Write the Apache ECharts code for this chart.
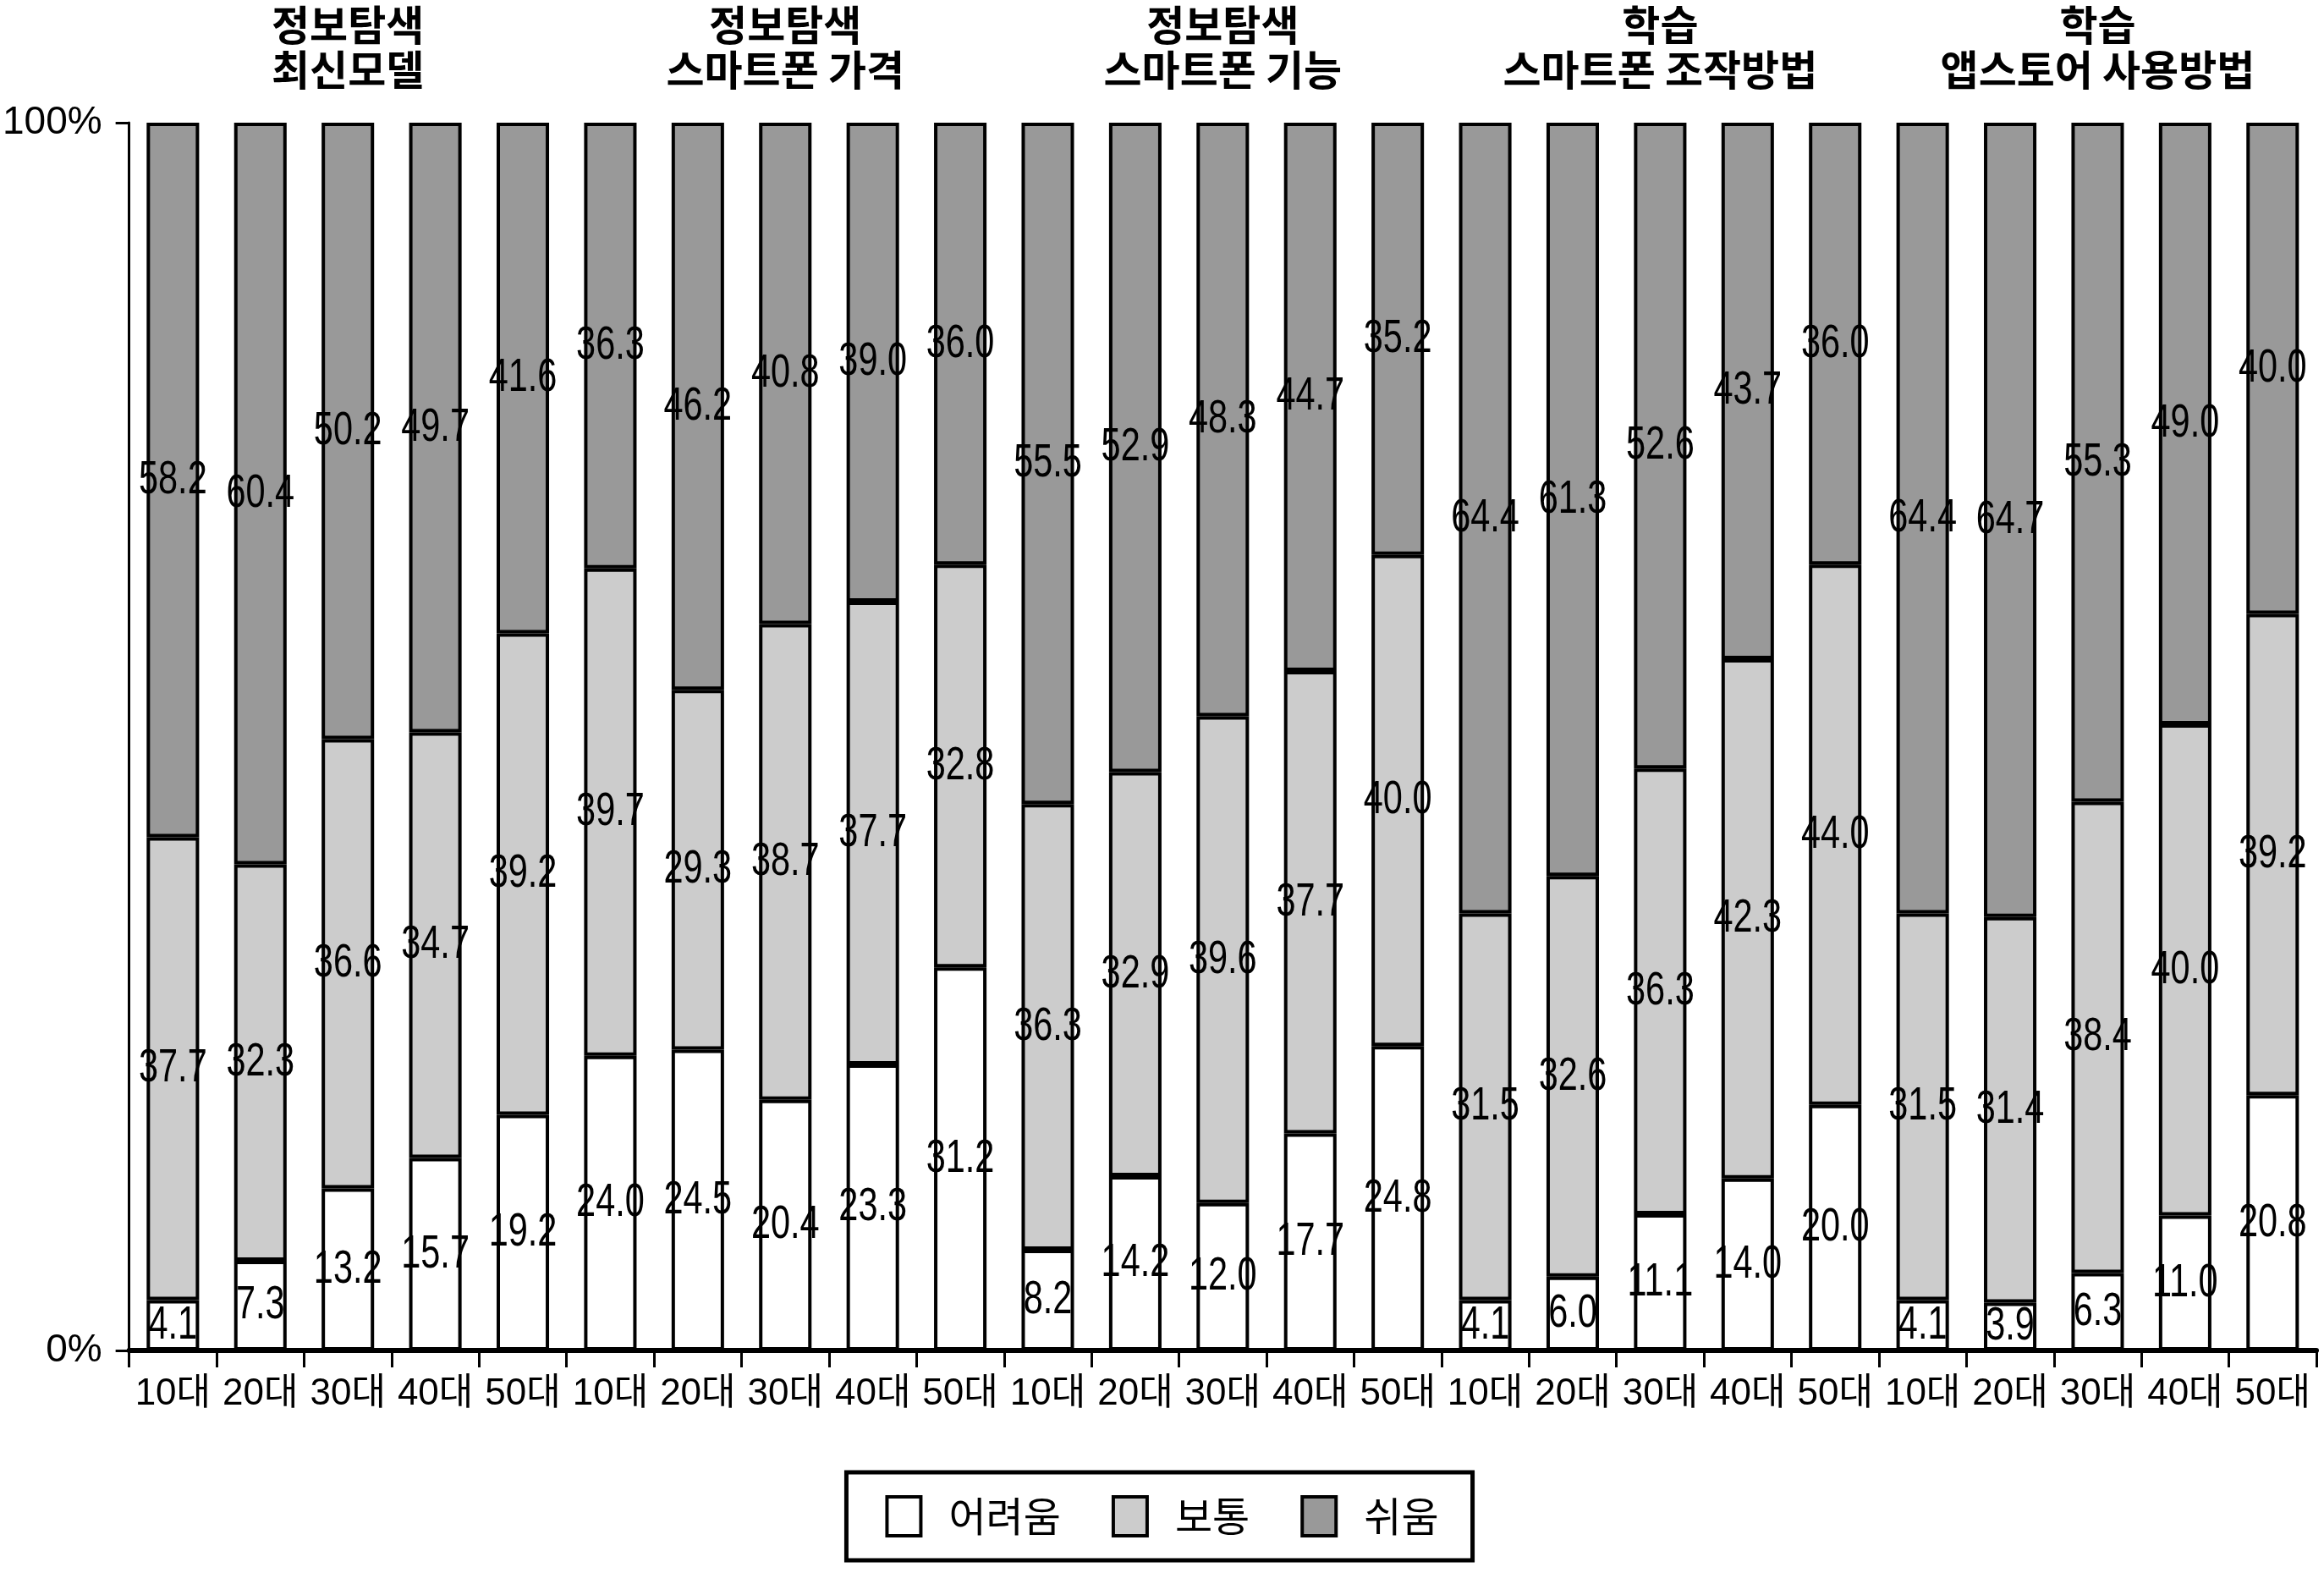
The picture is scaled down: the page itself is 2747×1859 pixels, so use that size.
<!DOCTYPE html>
<html>
<head>
<meta charset="utf-8">
<script src="https://cdn.jsdelivr.net/npm/echarts@6/dist/echarts.min.js"></script>
<style>
html,body{margin:0;padding:0;background:#fff;}
#chart{width:2747px;height:1859px;}
</style>
</head>
<body>
<div id="chart"></div>
<script>
// Data
const ages = ['10대','20대','30대','40대','50대'];
const groups = ['정보탐색\n최신모델','정보탐색\n스마트폰 가격','정보탐색\n스마트폰 기능','학습\n스마트폰 조작방법','학습\n앱스토어 사용방법'];
const categories = [].concat(ages, ages, ages, ages, ages);
const seriesNames = ['어려움','보통','쉬움'];
const hard = [4.1, 7.3, 13.2, 15.7, 19.2,  24.0, 24.5, 20.4, 23.3, 31.2,  8.2, 14.2, 12.0, 17.7, 24.8,  4.1, 6.0, 11.1, 14.0, 20.0,  4.1, 3.9, 6.3, 11.0, 20.8];
const normal = [37.7, 32.3, 36.6, 34.7, 39.2,  39.7, 29.3, 38.7, 37.7, 32.8,  36.3, 32.9, 39.6, 37.7, 40.0,  31.5, 32.6, 36.3, 42.3, 44.0,  31.5, 31.4, 38.4, 40.0, 39.2];
const easy = [58.2, 60.4, 50.2, 49.7, 41.6,  36.3, 46.2, 40.8, 39.0, 36.0,  55.5, 52.9, 48.3, 44.7, 35.2,  64.4, 61.3, 52.6, 43.7, 36.0,  64.4, 64.7, 55.3, 49.0, 40.0];
const colors = ['#FFFFFF', '#CCCCCC', '#999999'];

const SANS = '"Liberation Sans", Arial, "Noto Sans CJK KR", sans-serif';
const KR = '"Noto Sans CJK KR", sans-serif';
const chart = echarts.init(document.getElementById('chart'), null, {renderer: 'canvas'});

// 100% stacked: each bar scaled to its own total (as a 100% stacked chart does)
const layers = [hard, normal, easy];
const totals = categories.map(function (_, i) { return hard[i] + normal[i] + easy[i]; });
const pct = layers.map(function (arr) { return arr.map(function (v, i) { return v / totals[i] * 100; }); });

// label items: [categoryIndex, segmentStart, segmentEnd, rawValue]
const labelData = [];
for (let i = 0; i < categories.length; i++) {
  let acc = 0;
  for (let k = 0; k < layers.length; k++) {
    const h = pct[k][i];
    labelData.push([i, acc, acc + h, layers[k][i]]);
    acc += h;
  }
}

function mkSeries(name, data, color) {
  return {
    name: name,
    type: 'bar',
    stack: 'total',
    data: data,
    barWidth: '60%',
    itemStyle: {color: color, borderColor: '#000', borderWidth: 4},
    label: {show: false},
    emphasis: {disabled: true}
  };
}

chart.setOption({
  animation: false,
  backgroundColor: '#fff',
  grid: {left: 152, right: 9, top: 145, bottom: 263, containLabel: false},
  legend: {
    data: seriesNames,
    left: 'center',
    top: 1740,
    icon: 'rect',
    itemWidth: 40,
    itemHeight: 46,
    itemGap: 60,
    borderColor: '#000',
    borderWidth: 5,
    padding: [27, 40, 27, 46],
    textStyle: {color: '#000', fontSize: 48, fontFamily: KR, padding: [0, 0, 0, 28]},
    itemStyle: {borderColor: '#000', borderWidth: 4}
  },
  xAxis: [
    {
      type: 'category',
      data: categories,
      position: 'bottom',
      axisLine: {show: true, lineStyle: {color: '#000', width: 6}},
      axisTick: {show: true, alignWithLabel: false, length: 20, lineStyle: {color: '#000', width: 3}},
      axisLabel: {color: '#000', fontSize: 44, fontFamily: SANS, margin: 30, interval: 0},
      splitLine: {show: false}
    },
    {
      type: 'category',
      data: groups,
      position: 'top',
      axisLine: {show: false},
      axisTick: {show: false},
      axisLabel: {color: '#000', fontSize: 49, fontWeight: 'bold', lineHeight: 53, fontFamily: KR, margin: 36, interval: 0},
      splitLine: {show: false}
    }
  ],
  yAxis: {
    type: 'value',
    min: 0,
    max: 100,
    interval: 100,
    axisLine: {show: true, lineStyle: {color: '#000', width: 3}},
    axisTick: {show: true, length: 16, lineStyle: {color: '#000', width: 3}},
    axisLabel: {color: '#000', fontSize: 46, fontFamily: SANS, margin: 32, formatter: '{value}%'},
    splitLine: {show: false}
  },
  series: [
    mkSeries(seriesNames[0], pct[0], colors[0]),
    mkSeries(seriesNames[1], pct[1], colors[1]),
    mkSeries(seriesNames[2], pct[2], colors[2]),
    {
      name: 'labels',
      type: 'custom',
      data: labelData,
      encode: {x: 0, y: [1, 2]},
      clip: false,
      silent: true,
      z: 10,
      renderItem: function (params, api) {
        const idx = api.value(0);
        const mid = (api.value(1) + api.value(2)) / 2;
        const p = api.coord([idx, mid]);
        return {
          type: 'text',
          x: p[0],
          y: p[1],
          scaleX: 0.74,
          scaleY: 1,
          style: {
            text: api.value(3).toFixed(1),
            fill: '#000',
            font: '56px "Liberation Sans", Arial, sans-serif',
            textAlign: 'center',
            textVerticalAlign: 'middle'
          }
        };
      }
    }
  ]
});
</script>
</body>
</html>
